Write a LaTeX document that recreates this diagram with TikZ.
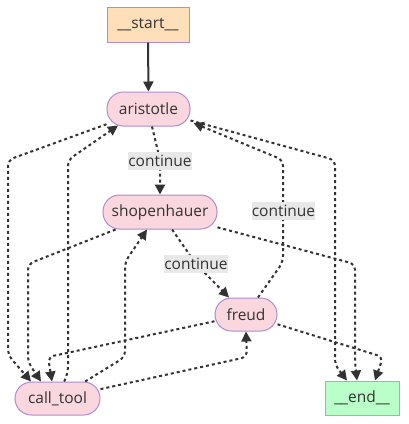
\documentclass[tikz,border=0pt]{standalone}
\usepackage{fontspec}
\setmainfont{Open Sans}
\usetikzlibrary{arrows.meta,calc}
\definecolor{txt}{HTML}{333333}
\definecolor{edgec}{HTML}{333333}
\definecolor{startfill}{HTML}{FFDFBA}
\definecolor{endfill}{HTML}{BAFFC9}
\definecolor{midfill}{HTML}{FAD7DE}
\definecolor{purpleline}{HTML}{B08CCB}
\definecolor{endline}{HTML}{9FB0BE}
\definecolor{lblbg}{HTML}{E8E8E8}
\tikzset{
  base/.style={rectangle, inner sep=0pt, text=txt, font=\fontsize{15.5}{18}\selectfont, line width=1pt},
  termstart/.style={base, fill=startfill, draw=purpleline, minimum width=82pt, minimum height=35pt},
  termend/.style={base, fill=endfill, draw=endline, minimum width=74pt, minimum height=34pt},
  stadium/.style={base, fill=midfill, draw=purpleline, rounded corners=16.5pt, minimum height=34pt},
  flow/.style={draw=edgec, line width=2pt, dash pattern=on 3pt off 3pt, rounded corners=6pt, -{Triangle[length=10pt,width=10pt]}},
  solidflow/.style={draw=edgec, line width=2pt, -{Triangle[length=10pt,width=10pt]}},
  lbl/.style={fill=lblbg, text=txt, inner sep=0pt, minimum width=62pt, minimum height=18pt, font=\fontsize{15.5}{18}\selectfont}
}
\begin{document}
\begin{tikzpicture}[x=1pt,y=-1pt]
\useasboundingbox (0,0) rectangle (408,424);
\fill[white] (0,0) rectangle (408,424);
\node[termstart] (start) at (148,24.5) {\_\_start\_\_};
\node[stadium, minimum width=83pt] (aristotle) at (148.5,109) {aristotle};
\node[stadium, minimum width=114pt] (shop) at (160,212) {shopenhauer};
\node[stadium, minimum width=62pt, minimum height=33pt] (freud) at (246,314.5) {freud};
\node[stadium, minimum width=85pt, minimum height=33pt] (calltool) at (57.5,398.5) {call\_tool};
\node[termend] (end) at (362,398) {\_\_end\_\_};

\draw[solidflow] (start) -- (aristotle);
% aristotle -> call_tool
\draw[flow] (aristotle) -- (8,160) -- (8,355) -- ([xshift=-26.5pt]calltool.north);
% call_tool -> aristotle
\draw[flow] (calltool) -- (68,372) -- (68,160) -- ($(aristotle.south)+(-30.5,-1)$);
% aristotle -> shopenhauer
\draw[flow] ($(aristotle.south)+(3.5,0)$) -- (160,160) -- (shop.north);
% freud -> aristotle
\draw[flow] (freud) -- (283,262) -- (283,160) -- ($(aristotle.east)+(3,14)$);
% aristotle -> end
\draw[flow] (aristotle) -- (335,160) -- (335,365) -- ([xshift=-15pt]end.north);
% shopenhauer -> call_tool
\draw[flow] (shop) -- (28,264) -- (28,362) -- ([xshift=-16.5pt]calltool.north);
% call_tool -> shopenhauer
\draw[flow] (calltool) -- (125,357) -- (125,262) -- ([xshift=-13pt]shop.south);
% shopenhauer -> freud
\draw[flow] (shop) -- (196,264) -- ([xshift=-17pt]freud.north);
% shopenhauer -> end
\draw[flow] (shop) -- (355,264) -- (355,362) -- ([xshift=-5pt]end.north);
% freud -> call_tool
\draw[flow] (freud) -- (48,357) -- ([xshift=-5.5pt]calltool.north);
% call_tool -> freud
\draw[flow] (calltool) -- (247,357) -- (freud.south);
% freud -> end
\draw[flow] (freud) -- (383,357) -- ([xshift=13pt]end.north);

\node[lbl] (l1) at (160,161) {continue};
\node[lbl] (l2) at (283.5,210.5) {continue};
\node[lbl] (l3) at (196,264) {continue};
\end{tikzpicture}
\end{document}
